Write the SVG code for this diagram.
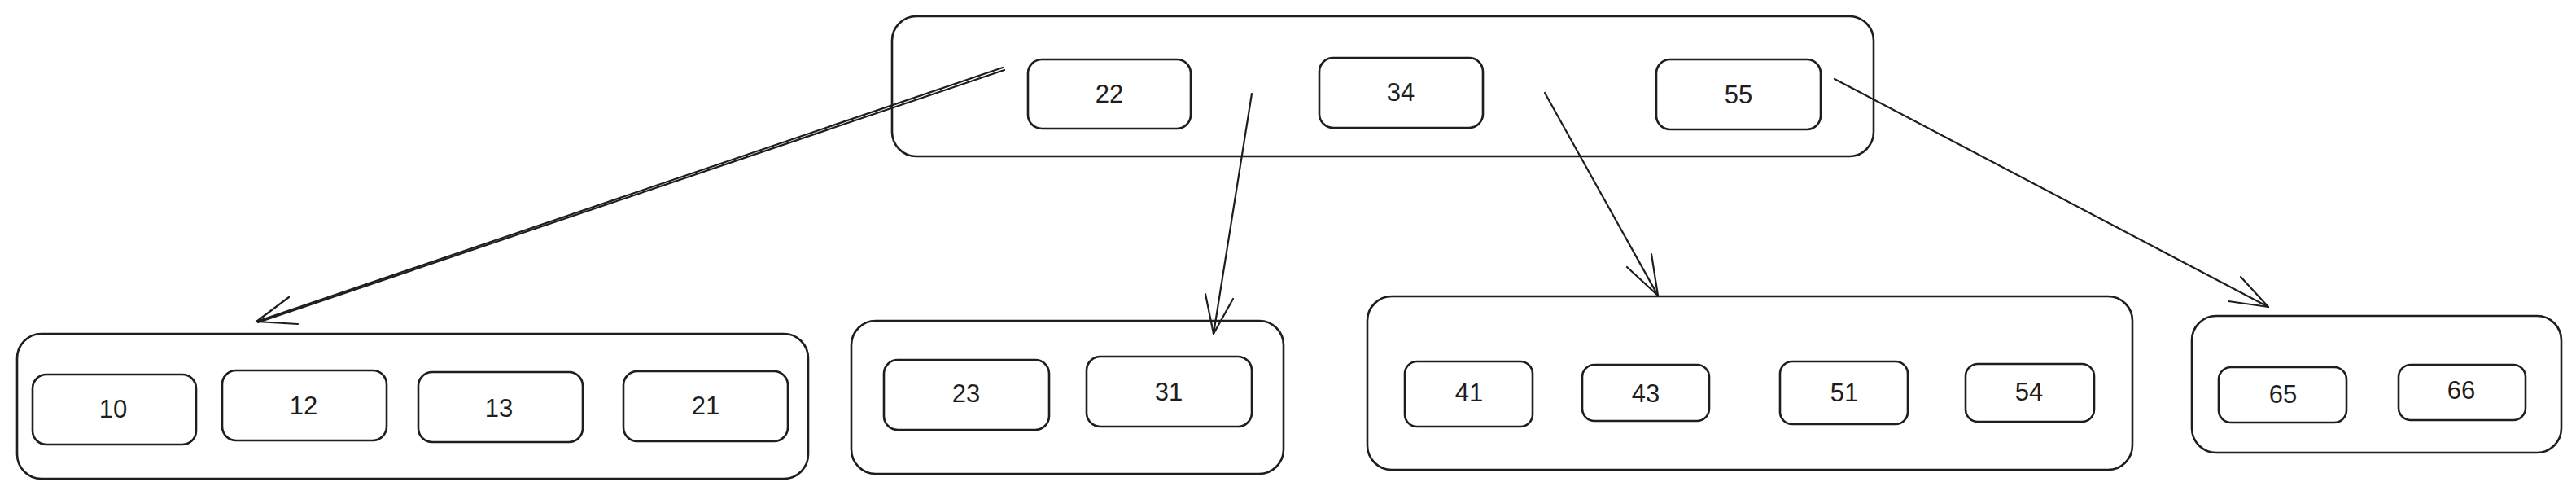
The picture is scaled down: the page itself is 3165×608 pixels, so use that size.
<svg xmlns="http://www.w3.org/2000/svg" width="3165" height="608" viewBox="0 0 3165 608">
<defs>
<style>
.outer{fill:#ffffff;stroke:#1e1e1e;stroke-width:2.6}
.inner{fill:#ffffff;stroke:#1e1e1e;stroke-width:2.6}
.lbl{font-family:"Liberation Sans",Arial,sans-serif;font-size:31px;fill:#1e1e1e;text-anchor:middle;dominant-baseline:central}
.edge{fill:none;stroke:#1e1e1e;stroke-width:2.2;stroke-linecap:round;stroke-linejoin:round}
</style>
</defs>
<rect width="3165" height="608" fill="#ffffff"/>
<g id="root">
<rect class="outer" x="1096" y="20" width="1206" height="172" rx="30"/>
<g id="k22"><rect class="inner" x="1263" y="73" width="200" height="85" rx="17"/><text class="lbl" x="1363" y="115">22</text></g>
<g id="k34"><rect class="inner" x="1621" y="71" width="201" height="86" rx="17"/><text class="lbl" x="1721" y="113">34</text></g>
<g id="k55"><rect class="inner" x="2035" y="73" width="202" height="86" rx="17"/><text class="lbl" x="2136" y="116">55</text></g>
</g>
<g id="leaf1">
<rect class="outer" x="21" y="410" width="972" height="178" rx="30"/>
<g id="k10"><rect class="inner" x="40" y="460" width="201" height="86" rx="17"/><text class="lbl" x="139" y="502">10</text></g>
<g id="k12"><rect class="inner" x="273" y="455" width="202" height="86" rx="17"/><text class="lbl" x="373" y="498">12</text></g>
<g id="k13"><rect class="inner" x="514" y="457" width="202" height="86" rx="17"/><text class="lbl" x="613" y="501">13</text></g>
<g id="k21"><rect class="inner" x="766" y="456" width="202" height="86" rx="17"/><text class="lbl" x="867" y="498">21</text></g>
</g>
<g id="leaf2">
<rect class="outer" x="1046" y="394" width="531" height="188" rx="30"/>
<g id="k23"><rect class="inner" x="1086" y="442" width="203" height="86" rx="17"/><text class="lbl" x="1187" y="483">23</text></g>
<g id="k31"><rect class="inner" x="1335" y="438" width="203" height="86" rx="17"/><text class="lbl" x="1436" y="481">31</text></g>
</g>
<g id="leaf3">
<rect class="outer" x="1680" y="364" width="940" height="213" rx="30"/>
<g id="k41"><rect class="inner" x="1726" y="444" width="157" height="80" rx="15"/><text class="lbl" x="1805" y="482">41</text></g>
<g id="k43"><rect class="inner" x="1944" y="448" width="156" height="69" rx="15"/><text class="lbl" x="2022" y="483">43</text></g>
<g id="k51"><rect class="inner" x="2187" y="444" width="157" height="77" rx="15"/><text class="lbl" x="2266" y="482">51</text></g>
<g id="k54"><rect class="inner" x="2415" y="447" width="158" height="71" rx="15"/><text class="lbl" x="2493" y="481">54</text></g>
</g>
<g id="leaf4">
<rect class="outer" x="2693" y="388" width="454" height="168" rx="30"/>
<g id="k65"><rect class="inner" x="2726" y="451" width="157" height="68" rx="15"/><text class="lbl" x="2805" y="484">65</text></g>
<g id="k66"><rect class="inner" x="2947" y="448" width="156" height="68" rx="15"/><text class="lbl" x="3024" y="479">66</text></g>
</g>
<g id="connectors">
<path class="edge" d="M1232 83 L315 395"/>
<path class="edge" d="M1234 86 L317 396"/>
<path class="edge" d="M355 365 L315 395 L366 398"/>
<path class="edge" d="M1538 115 L1491 410"/>
<path class="edge" d="M1481 361 L1491 410 L1515 367"/>
<path class="edge" d="M1898 114 L2037 363"/>
<path class="edge" d="M1999 328 L2037 363 L2029 312"/>
<path class="edge" d="M2254 97 L2787 377"/>
<path class="edge" d="M2753 340 L2787 377 L2738 370"/>
</g>
</svg>
